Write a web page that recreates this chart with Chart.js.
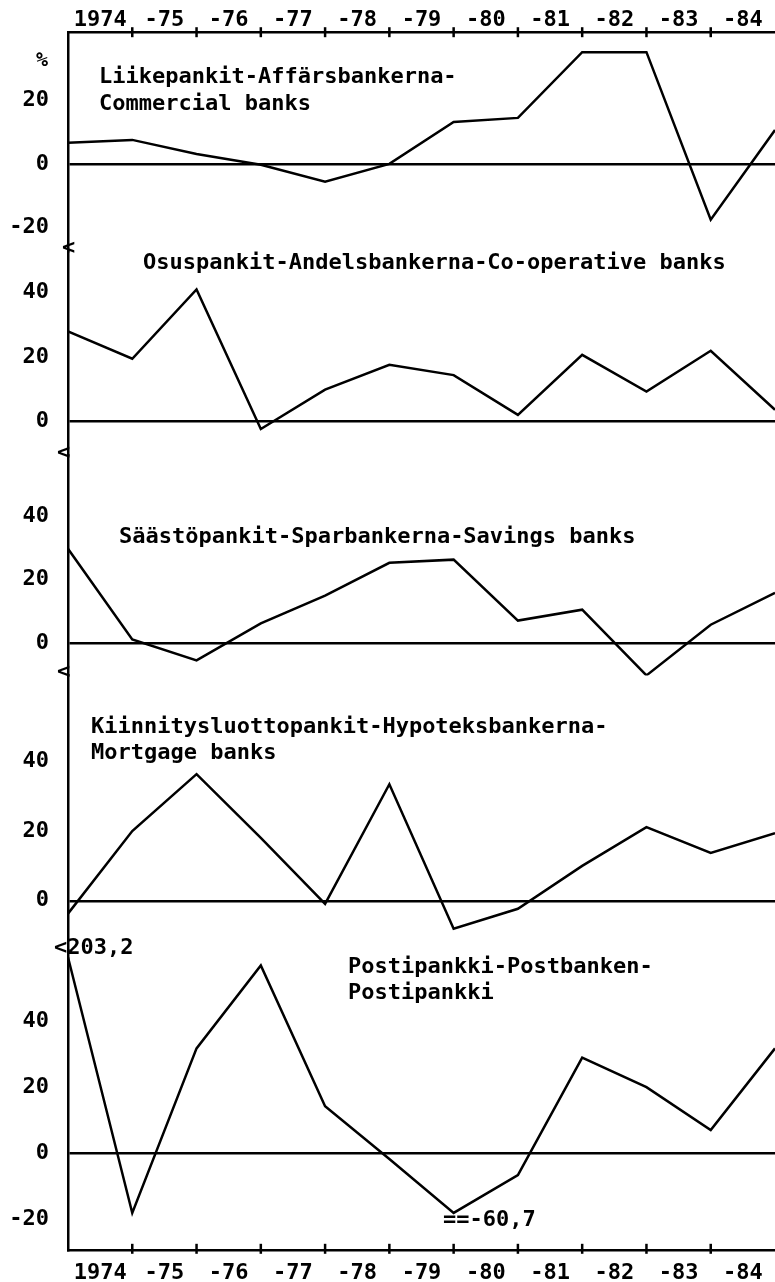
<!DOCTYPE html>
<html>
<head>
<meta charset="utf-8">
<script src="https://cdn.jsdelivr.net/npm/chart.js@4.4.1/dist/chart.umd.min.js"></script>
<style>
html, body { margin: 0; padding: 0; background: #fff; }
</style>
</head>
<body>
<canvas id="banks" width="775" height="1282"></canvas>
<script>
// year labels (between the year-boundary ticks)
var years = ['1974', '-75', '-76', '-77', '-78', '-79', '-80', '-81', '-82', '-83', '-84'];

// annual change, %, read at the 12 year boundaries
var commercial  = [6.6, 7.5, 3.1, -0.3, -5.6, 0, 13.1, 14.4, 35, 35, -17.5, 10.6];
var cooperative = [27.9, 19.4, 41, -2.5, 9.8, 17.5, 14.3, 1.9, 20.6, 9.2, 21.9, 3.5];
var savings     = [29.7, 1.3, -5.3, 6.3, 15, 25.3, 26.3, 7.2, 10.6, -10, 5.9, 15.9];
var mortgage    = [-3.7, 20, 36.3, 18, -0.9, 33.4, -8, -2.3, 10, 21.1, 13.7, 19.4];
var postbank    = [203.2, -19.4, 31.8, 57, 14.2, -1.8, -60.7, -6.7, 29, 20, 7, 31.8];

// y tick labels per panel
var ticks1 = [20, 0, -20];
var ticks2 = [40, 20, 0];
var ticks3 = [40, 20, 0];
var ticks4 = [40, 20, 0];
var ticks5 = [40, 20, 0, -20];

var FONT = 'DejaVu Sans Mono';

function points(values, lo, hi) {
    // values beyond the axis break are drawn at the break
    return values.map(function(v, i) {
        return {x: i, y: Math.max(lo, Math.min(hi, v))};
    });
}

function panelAxis(min, max, tickList, weight, size) {
    return {
        type: 'linear',
        position: 'left',
        stack: 'banks',
        stackWeight: size,
        weight: weight,
        bounds: 'data',
        min: min,
        max: max,
        afterBuildTicks: function(scale) {
            scale.ticks = tickList.map(function(v) { return {value: v}; });
        },
        afterFit: function(scale) { scale.width = 68; },
        border: {display: true, color: '#000', width: 2.5},
        grid: {
            drawTicks: false,
            lineWidth: 2.5,
            color: function(c) {
                return c.tick && c.tick.value === 0 ? '#000' : 'rgba(0,0,0,0)';
            }
        },
        ticks: {color: '#000', padding: 19, font: {family: FONT, size: 22, weight: 'bold'}}
    };
}

function yearAxis(pos, h, pad) {
    return {
        type: 'linear',
        position: pos,
        bounds: 'data',
        min: 0,
        max: 11,
        afterBuildTicks: function(scale) {
            var t = [];
            for (var k = 0; k < years.length; k++) t.push({value: k + 0.5});
            scale.ticks = t;
        },
        afterFit: function(scale) { scale.height = h; },
        border: {display: true, color: '#000', width: 2.5},
        grid: {display: false},
        ticks: {
            color: '#000',
            autoSkip: false,
            maxRotation: 0,
            padding: pad,
            font: {family: FONT, size: 22, weight: 'bold'},
            callback: function(value) { return years[Math.floor(value)]; }
        }
    };
}

function line(values, axis, lo, hi) {
    return {
        data: points(values, lo, hi),
        xAxisID: 'x',
        yAxisID: axis,
        borderColor: '#000',
        borderWidth: 2.5,
        pointRadius: 0,
        tension: 0,
        fill: false
    };
}

var notes = {
    id: 'notes',
    afterDraw: function(chart) {
        var ctx = chart.ctx;
        var top = chart.scales.xTop, bottom = chart.scales.x;
        ctx.save();
        // tick marks crossing the year axes
        ctx.strokeStyle = '#000';
        ctx.lineWidth = 2.5;
        for (var k = 1; k < years.length; k++) {
            var px = top.getPixelForValue(k);
            ctx.beginPath();
            ctx.moveTo(px, top.bottom - 5);
            ctx.lineTo(px, top.bottom + 5);
            ctx.stroke();
            px = bottom.getPixelForValue(k);
            ctx.beginPath();
            ctx.moveTo(px, bottom.top - 6);
            ctx.lineTo(px, bottom.top + 4);
            ctx.stroke();
        }
        ctx.fillStyle = '#000';
        ctx.textBaseline = 'middle';
        ctx.textAlign = 'left';
        ctx.font = 'bold 22px "' + FONT + '"';
        ctx.fillText('Liikepankit-Affärsbankerna-', 99, 77);
        ctx.fillText('Commercial banks', 99, 104);
        ctx.fillText('Osuspankit-Andelsbankerna-Co-operative banks', 143, 263);
        ctx.fillText('Säästöpankit-Sparbankerna-Savings banks', 119, 537);
        ctx.fillText('Kiinnitysluottopankit-Hypoteksbankerna-', 91, 727);
        ctx.fillText('Mortgage banks', 91, 753);
        ctx.fillText('Postipankki-Postbanken-', 348, 967);
        ctx.fillText('Postipankki', 348, 993);
        ctx.fillText('<203,2', 54, 948);
        ctx.fillText('==-60,7', 443, 1220);
        ctx.fillText('<', 57, 453);
        ctx.fillText('<', 57, 672);
        ctx.fillText('<', 62, 248);
        ctx.font = 'bold 20px "' + FONT + '"';
        ctx.textAlign = 'center';
        ctx.fillText('%', 42, 61);
        ctx.restore();
    }
};

new Chart(document.getElementById('banks'), {
    type: 'line',
    data: {
        datasets: [
            line(commercial, 'y1', -100, 100),
            line(cooperative, 'y2', -100, 100),
            line(savings, 'y3', -100, 100),
            line(mortgage, 'y4', -100, 100),
            line(postbank, 'y5', -18.2, 59.5)
        ]
    },
    options: {
        responsive: false,
        animation: false,
        devicePixelRatio: 1,
        layout: {padding: 0},
        plugins: {legend: {display: false}, tooltip: {enabled: false}},
        scales: {
            x: yearAxis('bottom', 32, 2),
            xTop: yearAxis('top', 30, -9),
            y1: panelAxis(-27.5, 41.25, ticks1, 5, 220),
            y2: panelAxis(-10.6, 52.8, ticks2, 4, 204),
            y3: panelAxis(-10, 59.1, ticks3, 3, 221),
            y4: panelAxis(-14.3, 64.6, ticks4, 2, 276),
            y5: panelAxis(-29.4, 61.5, ticks5, 1, 300)
        }
    },
    plugins: [notes]
});
</script>
</body>
</html>
